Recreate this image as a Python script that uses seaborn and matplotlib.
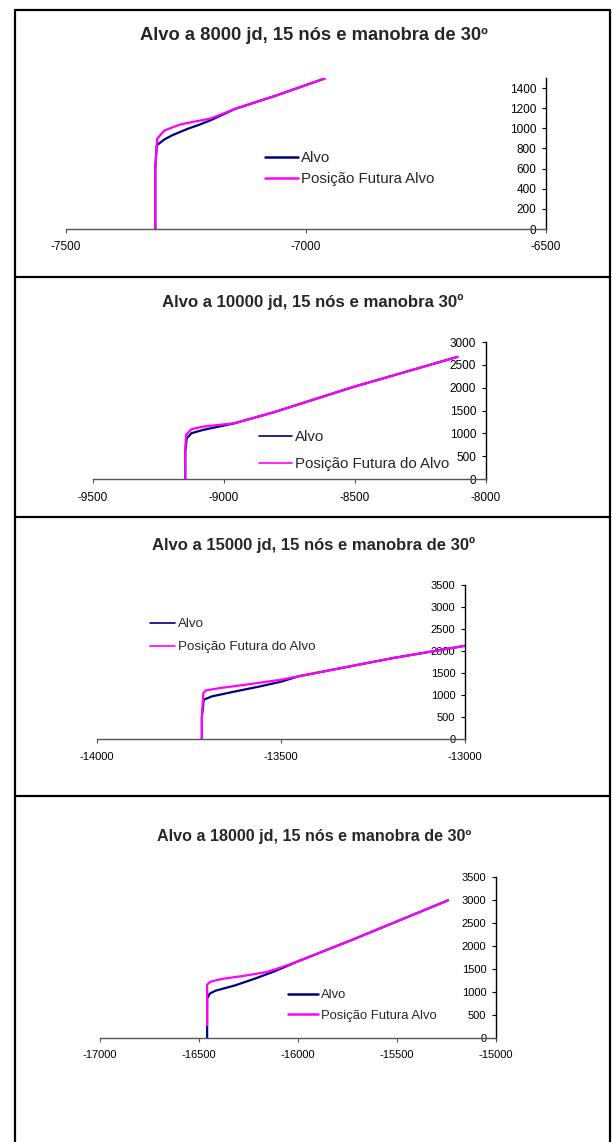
import matplotlib.pyplot as plt
import seaborn as sns
import pandas as pd
import numpy as np
from matplotlib.lines import Line2D

sns.set_style("white")
plt.rcParams['font.family'] = ['Liberation Sans', 'DejaVu Sans']
plt.rcParams['axes.unicode_minus'] = False

W, H = 613, 1142
NAVY = "#000080"
PINK = "#FF00FF"

# ---- painel 1 : 8000 jd
p1_alvo_x = [-7314, -7314, -7311, -7295, -7279, -7262, -7246, -7220, -7197, -7148, -7067, -6961]
p1_alvo_y = [0, 600, 831, 890, 930, 965, 996, 1040, 1084, 1193, 1318, 1495]
p1_fut_x = [-7314, -7314, -7310, -7295, -7262, -7235, -7213, -7197, -7148, -7067, -6961]
p1_fut_y = [0, 600, 897, 979, 1038, 1065, 1084, 1100, 1193, 1318, 1495]

# ---- painel 2 : 10000 jd
p2_alvo_x = [-9148, -9148, -9142, -9124, -9079, -9019, -8960, -8810, -8512, -8109]
p2_alvo_y = [0, 600, 894, 1003, 1076, 1148, 1221, 1461, 2006, 2674]
p2_fut_x = [-9148, -9148, -9145, -9124, -9079, -9019, -8960, -8810, -8512, -8109]
p2_fut_y = [0, 600, 967, 1090, 1148, 1185, 1221, 1461, 2006, 2674]

# ---- painel 3 : 15000 jd
p3_alvo_x = [-13715, -13715, -13710, -13688, -13624, -13560, -13501, -13454, -13197, -12995]
p3_alvo_y = [0, 500, 893, 968, 1082, 1190, 1300, 1422, 1838, 2125]
p3_fut_x = [-13715, -13715, -13711, -13704, -13667, -13600, -13501, -13454, -13197, -12995]
p3_fut_y = [0, 500, 1044, 1104, 1157, 1230, 1346, 1422, 1838, 2125]

# ---- painel 4 : 18000 jd
p4_alvo_x = [-16459, -16459, -16446, -16416, -16317, -16218, -16119, -16000, -15723, -15242]
p4_alvo_y = [0, 855, 964, 1029, 1145, 1290, 1449, 1667, 2140, 2993]
p4_fut_x = [-16459, -16459, -16448, -16436, -16376, -16277, -16158, -16079, -16000, -15723, -15242]
p4_fut_y = [275, 1159, 1205, 1232, 1290, 1348, 1435, 1543, 1667, 2140, 2993]

titles = ["Alvo a 8000 jd, 15 nós e manobra de 30º",
          "Alvo a 10000 jd, 15 nós e manobra 30º",
          "Alvo a 15000 jd, 15 nós e manobra de 30º",
          "Alvo a 18000 jd, 15 nós e manobra de 30º"]
labels_fut = ["Posição Futura Alvo", "Posição Futura do Alvo",
              "Posição Futura do Alvo", "Posição Futura Alvo"]
xlims = [(-7500, -6500), (-9500, -8000), (-14000, -13000), (-17000, -15000)]
ylims = [(0, 1500), (0, 3000), (0, 3500), (0, 3500)]
ysteps = [200, 500, 500, 500]

series = [(p1_alvo_x, p1_alvo_y, p1_fut_x, p1_fut_y),
          (p2_alvo_x, p2_alvo_y, p2_fut_x, p2_fut_y),
          (p3_alvo_x, p3_alvo_y, p3_fut_x, p3_fut_y),
          (p4_alvo_x, p4_alvo_y, p4_fut_x, p4_fut_y)]

# layout in pixels: (left, right, top, bottom) of plot area
boxes = [(66, 546, 78, 229), (93, 486, 342, 479), (97, 465, 585, 739), (100, 496, 877, 1038)]
title_pos = [(314, 36, 13.2), (313, 302, 12.1), (314, 545, 12.0), (314, 837, 11.6)]
# x, y (px), fontsize, labelspacing, handlelength, handle width
legend_pos = [(265, 151, 10.8, 0.45, 2.2, 1.8), (259, 430, 10.8, 0.85, 2.2, 1.2),
              (150, 618, 9.6, 0.8, 1.9, 1.2), (288, 989, 9.4, 0.65, 2.3, 1.8)]
tick_fs = [8.5, 8.5, 8.0, 8.0]

fig = plt.figure(figsize=(W / 100, H / 100), dpi=100)

for i in range(4):
    ax_x, ax_y, fx, fy = series[i]
    df = pd.concat([
        pd.DataFrame({"x": ax_x, "y": ax_y, "serie": "Alvo"}),
        pd.DataFrame({"x": fx, "y": fy, "serie": labels_fut[i]}),
    ])
    l, r, t, b = boxes[i]
    ax = fig.add_axes([l / W, 1 - b / H, (r - l) / W, (b - t) / H])
    sns.lineplot(data=df, x="x", y="y", hue="serie", sort=False, estimator=None,
                 palette={"Alvo": NAVY, labels_fut[i]: PINK}, linewidth=1.6, ax=ax)
    ax.set_xlim(*xlims[i])
    ax.set_ylim(*ylims[i])
    ax.set_xticks(np.arange(xlims[i][0], xlims[i][1] + 1, 500))
    ax.set_yticks(np.arange(0, ylims[i][1] + 1, ysteps[i]))
    ax.set_xlabel("")
    ax.set_ylabel("")
    ax.spines["top"].set_visible(False)
    ax.spines["right"].set_visible(False)
    ax.spines["left"].set_position(("data", xlims[i][1]))
    ax.spines["left"].set_color("black")
    ax.spines["left"].set_linewidth(1.0)
    ax.spines["bottom"].set_color("#555555")
    ax.spines["bottom"].set_linewidth(1.0)
    ax.tick_params(axis="both", direction="out", length=3, width=0.8,
                   labelsize=tick_fs[i])
    ax.tick_params(axis="y", left=True, colors="black", pad=4)
    ax.tick_params(axis="x", bottom=True, color="#555555", labelcolor="black", pad=6)
    ax.patch.set_alpha(0)

    lx, ly, lfs, lsp, hl, hw = legend_pos[i]
    leg = ax.legend(loc="upper left", bbox_to_anchor=(lx / W, 1 - ly / H),
                    bbox_transform=fig.transFigure, frameon=False, fontsize=lfs,
                    handlelength=hl, handletextpad=0.2, borderpad=0, borderaxespad=0,
                    labelspacing=lsp)
    for h in leg.get_lines():
        h.set_linewidth(hw)

    cx, cy, tfs = title_pos[i]
    fig.text(cx / W, 1 - cy / H, titles[i], ha="center", va="center",
             fontsize=tfs, fontweight="bold")

# moldura dos paineis
def hline(y, x0=15, x1=610):
    fig.add_artist(Line2D([x0 / W, x1 / W], [1 - y / H, 1 - y / H], color="black", lw=1.6))

def vline(x, y0=10, y1=H):
    fig.add_artist(Line2D([x / W, x / W], [1 - y0 / H, 1 - y1 / H], color="black", lw=1.6))

for yy in [10, 277, 517, 796]:
    hline(yy)
vline(15)
vline(610)

fig.savefig("out.png", dpi=100)
